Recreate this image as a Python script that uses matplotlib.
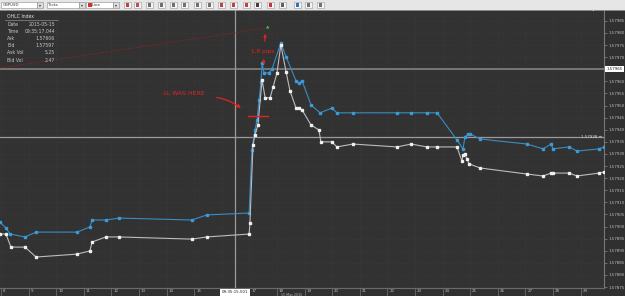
import matplotlib
matplotlib.use('Agg')
import matplotlib.pyplot as plt
from matplotlib.patches import Rectangle, FancyArrowPatch
from matplotlib.lines import Line2D

# ---------------- data (seconds after 09:35:00, price) ----------------
ask_time = [7.96, 8.18, 8.33, 8.87, 9.27, 10.75, 11.22, 11.30, 11.80, 12.28, 14.92, 15.46,
            16.99, 17.09, 17.20, 17.28, 17.35, 17.42, 17.46, 17.53, 17.71, 17.82, 18.14,
            18.33, 18.69, 18.80, 18.91, 19.23, 19.56, 19.99, 20.17, 20.75, 22.35, 22.86,
            23.43, 23.80, 24.52, 24.74, 24.81, 24.92, 24.99, 25.36, 27.06, 27.64, 27.93,
            28.00, 28.58, 28.87, 29.67, 29.85]
ask_price = [1.579019, 1.578994, 1.578969, 1.578957, 1.578977, 1.578977, 1.578998, 1.579027,
             1.579027, 1.579035, 1.579027, 1.579048, 1.579056, 1.579317, 1.579399, 1.579441,
             1.579523, 1.579598, 1.579676, 1.579635, 1.579635, 1.579651, 1.579759, 1.579701,
             1.579602, 1.579594, 1.579602, 1.579503, 1.579470, 1.579490, 1.579470, 1.579470,
             1.579470, 1.579470, 1.579470, 1.579470, 1.579358, 1.579321, 1.579370, 1.579383,
             1.579383, 1.579362, 1.579341, 1.579321, 1.579341, 1.579321, 1.579329, 1.579312,
             1.579321, 1.579329]

bid_time = [7.96, 8.18, 8.36, 8.87, 9.27, 10.75, 11.22, 11.30, 11.80, 12.28, 14.92, 15.46,
            16.99, 17.02, 17.13, 17.20, 17.31, 17.46, 17.57, 17.75, 17.86, 18.00, 18.14,
            18.33, 18.47, 18.69, 18.80, 18.91, 19.23, 19.52, 19.59, 19.99, 20.17, 20.75,
            22.35, 22.86, 23.43, 23.80, 24.52, 24.70, 24.74, 24.81, 24.88, 24.96, 25.36,
            27.06, 27.64, 27.93, 28.00, 28.58, 28.87, 29.67, 29.85]
bid_price = [1.578969, 1.578969, 1.578915, 1.578915, 1.578874, 1.578886, 1.578899, 1.578936,
             1.578957, 1.578957, 1.578948, 1.578957, 1.578969, 1.579015, 1.579337, 1.579379,
             1.579420, 1.579606, 1.579532, 1.579532, 1.579577, 1.579635, 1.579751, 1.579639,
             1.579561, 1.579490, 1.579490, 1.579482, 1.579420, 1.579399, 1.579350, 1.579350,
             1.579329, 1.579341, 1.579329, 1.579341, 1.579329, 1.579329, 1.579329, 1.579271,
             1.579296, 1.579300, 1.579279, 1.579259, 1.579242, 1.579217, 1.579209, 1.579221,
             1.579221, 1.579221, 1.579209, 1.579221, 1.579226]

second_ticks = [8, 9, 10, 11, 12, 13, 14, 15, 16, 17, 18, 19, 20, 21, 22, 23, 24, 25, 26, 27, 28, 29]
second_labels = ['8', '9', '10', '11', '12', '13', '14', '15', '', '17', '18', '19', '20', '21',
                 '22', '23', '24', '25', '26', '27', '28', '29']
price_ticks = [1.57875, 1.57880, 1.57885, 1.57890, 1.57895, 1.57900, 1.57905, 1.57910,
               1.57915, 1.57920, 1.57925, 1.57930, 1.57935, 1.57940, 1.57945, 1.57950,
               1.57955, 1.57960, 1.57965, 1.57970, 1.57975, 1.57980, 1.57985]
price_labels = ['1.57875', '1.57880', '1.57885', '1.57890', '1.57895', '1.57900', '1.57905',
                '1.57910', '1.57915', '1.57920', '1.57925', '1.57930', '1.57935', '1.57940',
                '1.57945', '1.57950', '1.57955', '1.57960', '', '1.57970', '1.57975',
                '1.57980', '1.57985']

level_price = 1.57965
cross_price = 1.57937
cross_time = 16.48

info_labels = ['Date', 'Time', 'Ask', 'Bid', 'Ask Vol', 'Bid Vol']
info_values = ['2015-05-15', '09:35:17.044', '1.57606', '1.57597', '5.25', '2.47']

# ---------------- figure ----------------
W, H = 625, 296
fig = plt.figure(figsize=(W / 100, H / 100), dpi=100)
fig.patch.set_facecolor('#303030')

def fx(x):
    return x / W

def fy(y):
    return 1 - y / H

ax = fig.add_axes([0, 8 / H, 604 / W, 278 / H])
ax.set_facecolor('#323232')

ax.plot(ask_time, ask_price, color='#3b8cc4', lw=0.8, marker='s', ms=1.6,
        mfc='#3b9ad8', mec='#3b9ad8', zorder=4)
ax.plot(bid_time, bid_price, color='#bdbdbd', lw=0.8, marker='s', ms=1.6,
        mfc='#f0f0f0', mec='#f0f0f0', zorder=4)

ax.set_xlim(7.964, 29.848)
ax.set_ylim(1.578746, 1.579895)

ax.axhline(level_price, color='#7c7c7c', lw=1.3, zorder=3)
ax.axhline(cross_price, color='#9a9a9a', lw=0.9, zorder=3)
ax.axvline(cross_time, color='#9a9a9a', lw=0.9, zorder=3)

ax.set_yticks(price_ticks)
ax.set_yticklabels(price_labels)
ax.yaxis.tick_right()
ax.tick_params(axis='y', colors='#888888', labelcolor='#bdbdbd', labelsize=2.9,
               length=2, width=0.5, pad=1.5)
ax.set_xticks(second_ticks)
ax.set_xticklabels([])
ax.tick_params(axis='x', colors='#6a6a6a', length=5.8, width=0.6, direction='out')
ax.grid(True, color='#3e3e3e', lw=0.5, ls=':')
for s in ['top', 'left']:
    ax.spines[s].set_visible(False)
ax.spines['right'].set_color('#777777')
ax.spines['bottom'].set_color('#6a6a6a')
ax.spines['right'].set_linewidth(0.8)
ax.spines['bottom'].set_linewidth(0.8)

xt = ax.get_xaxis_transform()
for s, lab in zip(second_ticks, second_labels):
    if lab:
        ax.text(s + 0.07, -0.012, lab, transform=xt, ha='left', va='center',
                fontsize=2.9, color='#bdbdbd', clip_on=False)

yt = ax.get_yaxis_transform()
ax.text(1.004, level_price, '1.57965', transform=yt, ha='left', va='center',
        fontsize=2.9, color='#222222', clip_on=False, zorder=6,
        bbox=dict(boxstyle='square,pad=0.25', fc='white', ec='none'))
ax.text(0.996, cross_price, '1.57938 \u2192', transform=yt, ha='right', va='center',
        fontsize=2.9, color='#dddddd', zorder=6)

ax.text(cross_time, -0.015, '09:35:15.501', transform=xt, ha='center', va='center',
        fontsize=2.9, color='#222222', clip_on=False, zorder=7,
        bbox=dict(boxstyle='square,pad=0.35', fc='white', ec='none'))
fig.text(fx(292), fy(295.2), '15 May 2015', fontsize=2.3, color='#bbbbbb',
         ha='center', va='center')

# ---------------- toolbar ----------------
fig.patches.append(Rectangle((0, fy(9.5)), 1, 9.5 / H, transform=fig.transFigure,
                             fc='#e6e6e6', ec='none', zorder=0))
fig.lines.append(Line2D([0, 1], [fy(9.5), fy(9.5)], transform=fig.transFigure,
                        color='#9a9a9a', lw=0.6))
for (x0, x1, txt) in [(1, 37, 'GBPUSD'), (47, 79, 'Ticks'), (86, 113, '   Line')]:
    fig.patches.append(Rectangle((fx(x0), fy(8)), (x1 - x0) / W, 6.5 / H,
                                 transform=fig.transFigure, fc='white', ec='#8a8a8a', lw=0.4))
    fig.patches.append(Rectangle((fx(x1), fy(8)), 6 / W, 6.5 / H,
                                 transform=fig.transFigure, fc='#dcdcdc', ec='#8a8a8a', lw=0.4))
    fig.text(fx(x0 + 1.5), fy(4.8), txt, fontsize=2.8, color='#333333', va='center')
    fig.text(fx(x1 + 3), fy(4.8), '\u25be', fontsize=2.8, color='#333333',
             va='center', ha='center')
fig.patches.append(Rectangle((fx(88), fy(6.5)), 4 / W, 3.5 / H, transform=fig.transFigure,
                             fc='#d03030', ec='none'))
icon_x = [124, 134, 146, 158, 170, 181, 194, 206, 218, 230, 243, 254, 267, 279, 294, 305, 317]
icon_c = ['#c04040', '#c05050', '#707070', '#707070', '#707070', '#707070', '#707070',
          '#707070', '#c04040', '#c04040', '#c04040', '#404040', '#d03030', '#606060',
          '#3070c0', '#707070', '#707070']
for x, c in zip(icon_x, icon_c):
    fig.patches.append(Rectangle((fx(x), fy(8)), 7 / W, 6.5 / H, transform=fig.transFigure,
                                 fc='#f4f4f4', ec='#9a9a9a', lw=0.4))
    fig.patches.append(Rectangle((fx(x + 2), fy(6.5)), 3 / W, 3.5 / H,
                                 transform=fig.transFigure, fc=c, ec='none'))

# small marker at top
fig.text(fx(593), fy(11), '\u25bc', fontsize=2.5, color='#dddddd', ha='center', va='center')

# ---------------- info panel ----------------
fig.text(fx(7), fy(16), 'OHLC Index', fontsize=3.3, color='#e0e0e0', va='center')
fig.lines.append(Line2D([fx(5), fx(58)], [fy(19.5), fy(19.5)], transform=fig.transFigure,
                        color='#8a8a8a', lw=0.5))
for i, (lab, val) in enumerate(zip(info_labels, info_values)):
    yy = 24.5 + i * 7.1
    fig.text(fx(7), fy(yy), lab, fontsize=3.3, color='#c8c8c8', va='center')
    fig.text(fx(55), fy(yy), val, fontsize=3.3, color='#c8c8c8', va='center', ha='right')

# ---------------- annotations ----------------
red = '#e52222'
fig.lines.append(Line2D([fx(0), fx(266)], [fy(68), fy(28)], transform=fig.transFigure,
                        color='#b02020', lw=0.6, ls=(0, (1, 1.5))))
fig.text(fx(267.5), fy(27.5), '\u25b2', fontsize=3.2, color='#30d030', ha='center', va='center')
fig.text(fx(263), fy(51), '1,8 pips', fontsize=4.2, color=red, ha='center', va='center')
for (x0, y0, x1, y1) in [(264.5, 44, 265.5, 31), (262.5, 57, 265, 67)]:
    fig.patches.append(FancyArrowPatch((fx(x0), fy(y0)), (fx(x1), fy(y1)),
                                       transform=fig.transFigure, arrowstyle='-|>',
                                       mutation_scale=4, color=red, lw=0.8))
fig.text(fx(184), fy(93), '1L WAS HERE', fontsize=4.4, color=red, ha='center', va='center')
fig.patches.append(FancyArrowPatch((fx(214), fy(97)), (fx(243), fy(110)),
                                   transform=fig.transFigure, arrowstyle='-|>',
                                   connectionstyle='arc3,rad=-0.15',
                                   mutation_scale=5, color=red, lw=0.9))
fig.lines.append(Line2D([fx(248), fx(268)], [fy(116), fy(116)], transform=fig.transFigure,
                        color=red, lw=1.0))

fig.savefig('out.png', dpi=100, facecolor=fig.get_facecolor())
